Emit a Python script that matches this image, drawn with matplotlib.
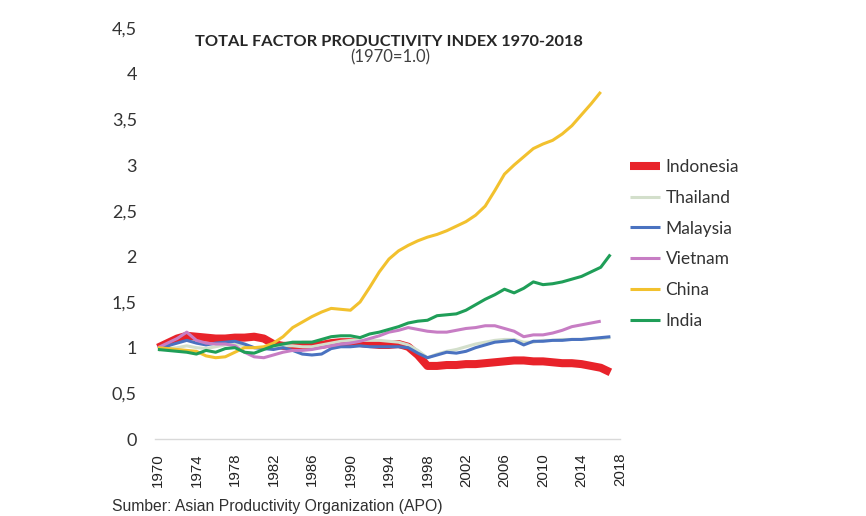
#!/usr/bin/env python3

import matplotlib
matplotlib.use('Agg')
import matplotlib.pyplot as plt
from matplotlib.ticker import FuncFormatter
import numpy as np

years = np.arange(1970, 2018)

indonesia = [1.00, 1.05, 1.10, 1.13, 1.12, 1.11, 1.10, 1.10, 1.11, 1.11,
             1.12, 1.10, 1.04, 1.02, 1.02, 1.03, 1.03, 1.03, 1.05, 1.06,
             1.06, 1.05, 1.04, 1.03, 1.03, 1.04, 1.01, 0.92, 0.80, 0.80,
             0.81, 0.81, 0.82, 0.82, 0.83, 0.84, 0.85, 0.86, 0.86, 0.85,
             0.85, 0.84, 0.83, 0.83, 0.82, 0.80, 0.78, 0.73]
thailand = [1.00, 0.99, 1.00, 1.02, 1.00, 0.99, 1.01, 1.03, 1.04, 1.02,
            1.00, 1.00, 1.01, 1.02, 1.02, 1.01, 1.01, 1.03, 1.05, 1.07,
            1.08, 1.08, 1.08, 1.08, 1.07, 1.06, 1.03, 0.97, 0.89, 0.93,
            0.96, 0.98, 1.01, 1.04, 1.06, 1.08, 1.09, 1.09, 1.06, 1.06,
            1.08, 1.08, 1.09, 1.09, 1.09, 1.10, 1.10, 1.11]
malaysia = [1.00, 1.02, 1.05, 1.08, 1.05, 1.03, 1.05, 1.06, 1.07, 1.04,
            1.00, 0.99, 0.98, 1.00, 0.97, 0.93, 0.92, 0.93, 0.99, 1.01,
            1.01, 1.02, 1.01, 1.01, 1.01, 1.01, 1.00, 0.94, 0.89, 0.92,
            0.95, 0.94, 0.96, 1.00, 1.03, 1.06, 1.07, 1.08, 1.03, 1.07,
            1.07, 1.08, 1.08, 1.09, 1.09, 1.10, 1.11, 1.12]
vietnam = [1.00, 1.05, 1.10, 1.17, 1.08, 1.05, 1.04, 1.04, 1.02, 0.95,
           0.90, 0.89, 0.92, 0.95, 0.97, 0.97, 0.98, 1.00, 1.02, 1.04,
           1.05, 1.07, 1.10, 1.13, 1.17, 1.19, 1.22, 1.20, 1.18, 1.17,
           1.17, 1.19, 1.21, 1.22, 1.24, 1.24, 1.21, 1.18, 1.12, 1.14,
           1.14, 1.16, 1.19, 1.23, 1.25, 1.27, 1.29]
china = [1.00, 0.99, 0.98, 0.97, 0.96, 0.91, 0.89, 0.90, 0.95, 1.00,
         1.00, 1.01, 1.05, 1.12, 1.22, 1.28, 1.34, 1.39, 1.43, 1.42,
         1.41, 1.50, 1.66, 1.83, 1.97, 2.06, 2.12, 2.17, 2.21, 2.24,
         2.28, 2.33, 2.38, 2.45, 2.55, 2.72, 2.90, 3.00, 3.09, 3.18,
         3.23, 3.27, 3.34, 3.43, 3.55, 3.67, 3.80]
india = [0.98, 0.97, 0.96, 0.95, 0.93, 0.97, 0.95, 0.99, 1.00, 0.95,
         0.94, 0.98, 1.02, 1.04, 1.06, 1.06, 1.06, 1.09, 1.12, 1.13,
         1.13, 1.11, 1.15, 1.17, 1.20, 1.23, 1.27, 1.29, 1.30, 1.35,
         1.36, 1.37, 1.41, 1.47, 1.53, 1.58, 1.64, 1.60, 1.65, 1.72,
         1.69, 1.70, 1.72, 1.75, 1.78, 1.83, 1.88, 2.02]

series = [
    ('Indonesia', indonesia, '#e8232a', 5.8),
    ('Thailand', thailand, '#d3dfcb', 2.2),
    ('Malaysia', malaysia, '#4a72c0', 2.2),
    ('Vietnam', vietnam, '#c77dc4', 2.2),
    ('China', china, '#f2c12e', 2.2),
    ('India', india, '#1f9e58', 2.2),
]

fig = plt.figure(figsize=(8.66, 5.16), dpi=100)
ax = fig.add_axes([155 / 866, 77 / 516, 465 / 866, 411 / 516])

for name, vals, col, lw in series:
    ax.plot(years[:len(vals)], vals, color=col, lw=lw, label=name,
            solid_capstyle='butt', solid_joinstyle='round')

ax.set_xlim(1969.7, 2018)
ax.set_ylim(0, 4.5)
ax.set_xticks(np.arange(1970, 2019, 4))
ax.set_yticks(np.arange(0, 4.51, 0.5))
ax.yaxis.set_major_formatter(FuncFormatter(
    lambda v, p: f"{v:g}".replace('.', ',')))
for lab in ax.get_yticklabels():
    lab.set_family('Lato')
    lab.set_fontsize(13)
    lab.set_color('#333333')
ax.tick_params(axis='y', length=0, pad=13)
ax.tick_params(axis='x', length=0, pad=10, labelrotation=90,
               labelsize=10.8, labelcolor='#222222')
for lab in ax.get_xticklabels():
    lab.set_family('Liberation Sans')

for s in ['top', 'right', 'left']:
    ax.spines[s].set_visible(False)
ax.spines['bottom'].set_color('#d9d9d9')
ax.spines['bottom'].set_linewidth(1)

fig.text(389 / 866, 1 - 42 / 516, 'TOTAL FACTOR PRODUCTIVITY INDEX 1970-2018',
         ha='center', va='center', family='Lato', weight='bold',
         fontsize=11.8, color='#262626')
fig.text(390 / 866, 1 - 57 / 516, '(1970=1.0)', ha='center', va='center',
         family='Lato', fontsize=12, color='#404040')

fig.legend(loc='upper left', bbox_to_anchor=(630 / 866, 1 - 159 / 516),
           frameon=False, borderpad=0, borderaxespad=0, handlelength=1.75,
           handletextpad=0.3, labelspacing=0.85,
           prop={'family': 'Lato', 'size': 12.5},
           labelcolor='#333333')

fig.text(112 / 866, 1 - 506 / 516,
         'Sumber: Asian Productivity Organization (APO)',
         ha='left', va='center', family='Liberation Sans', fontsize=11.3,
         color='#303030')

plt.savefig('out.png', dpi=100, facecolor='white')
